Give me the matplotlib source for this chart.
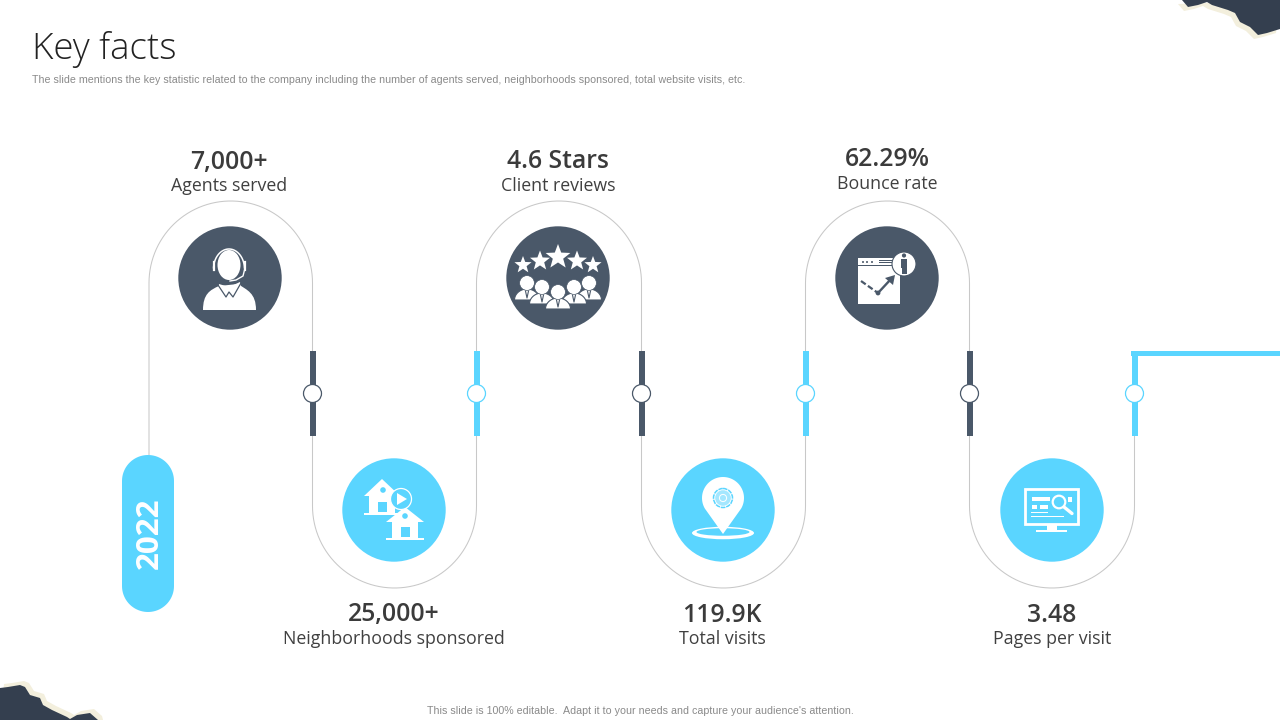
import matplotlib
matplotlib.use("Agg")
import matplotlib.pyplot as plt
import numpy as np
from matplotlib.patches import Circle, Ellipse, Polygon, Rectangle, PathPatch
from matplotlib.path import Path

DARK = "#4A5869"
CYAN = "#5AD5FF"
GREY = "#C8C8C8"
TORN = "#343F4F"
CREAM = "#F3EFDD"

values = ["7,000+", "25,000+", "4.6 Stars", "119.9K", "62.29%", "3.48"]
labels = ["Agents served", "Neighborhoods sponsored", "Client reviews",
          "Total visits", "Bounce rate", "Pages per visit"]
text_x = [229, 394, 558, 722, 887, 1052]
value_y = [162, 615, 162, 615, 160, 615]
label_y = [186, 639, 186, 639, 184, 639]
icon_x = [230, 394, 558, 723, 887, 1052]
icon_y = [278, 510, 278, 510, 278, 510]
turn_x = [149, 312.5, 476.5, 641.5, 805.5, 969.5, 1134.5]

top_right_edge = [(1182, 0), (1188, 7), (1198, 5), (1207, 2), (1212, 5), (1228, 10), (1235, 13),
                  (1240, 22), (1250, 27), (1258, 35), (1267, 33), (1280, 29)]
bottom_left_edge = [(0, 688), (8, 687), (20, 685), (25, 687), (30, 695), (40, 698), (43, 705),
                    (52, 710), (67, 717), (70, 719), (77, 715), (90, 713), (98, 720)]

TITLE = "Key facts"
SUBTITLE = ("The slide mentions the key statistic related to the company including the number of "
            "agents served, neighborhoods sponsored, total website visits, etc.")
FOOTER = "This slide is 100% editable.  Adapt it to your needs and capture your audience's attention."

fig = plt.figure(figsize=(12.8, 7.2), dpi=100)
ax = fig.add_axes([0, 0, 1, 1])
ax.set_xlim(0, 1280)
ax.set_ylim(720, 0)
ax.axis("off")


def arch(x0, x1, y_mid, y_end):
    # half ellipse from x0 to x1, bulging to y_end
    th = np.linspace(np.pi, 0, 60)
    cx = (x0 + x1) / 2
    return cx + (x1 - x0) / 2 * np.cos(th), y_mid + (y_end - y_mid) * np.sin(th)


def snake():
    xs = [turn_x[0]]
    ys = [455]
    for i in range(len(turn_x) - 1):
        if i % 2 == 0:
            ax_, ay_ = arch(turn_x[i], turn_x[i + 1], 283, 201)
        else:
            ax_, ay_ = arch(turn_x[i], turn_x[i + 1], 506, 588)
        xs.extend(ax_)
        ys.extend(ay_)
    xs.append(turn_x[-1])
    ys.append(430)
    ax.plot(xs, ys, color=GREY, lw=0.75, zorder=1, solid_capstyle="butt")


def white_poly(pts, color="white", z=5):
    ax.add_patch(Polygon(pts, closed=True, fc=color, ec="none", zorder=z))


def rect(x0, y0, x1, y1, color="white", z=5):
    ax.add_patch(Rectangle((x0, y0), x1 - x0, y1 - y0, fc=color, ec="none", zorder=z))


def dot(x, y, r, color="white", z=5):
    ax.add_patch(Circle((x, y), r, fc=color, ec="none", zorder=z))


def star(x, y, r, color="white", z=5):
    ang = -np.pi / 2 + np.arange(10) * np.pi / 5
    rad = np.where(np.arange(10) % 2 == 0, r, r * 0.42)
    white_poly(np.c_[x + rad * np.cos(ang), y + rad * np.sin(ang)], color, z)


def agent_icon():
    ax.add_patch(Ellipse((229, 265), 23, 30, fc="white", ec="none", zorder=5))
    th = np.linspace(np.pi * 1.02, np.pi * 1.98, 40)
    ax.plot(229 + 15.5 * np.cos(th), 269 + 20 * np.sin(th), color="white", lw=1.1, zorder=5)
    ax.plot([214, 214], [262, 270], color="white", lw=1.6, zorder=5)
    ax.plot([244.5, 244.5], [262, 270], color="white", lw=1.6, zorder=5)
    ax.plot([244.5, 243, 236, 230], [270, 276, 280, 281], color="white", lw=1, zorder=5)
    body = Path([(203, 310), (203, 294), (210, 290), (219, 286), (238, 284),
                 (247, 290), (256, 293), (256, 310), (203, 310)],
                [Path.MOVETO, Path.CURVE4, Path.CURVE4, Path.CURVE4, Path.LINETO,
                 Path.CURVE4, Path.CURVE4, Path.CURVE4, Path.CLOSEPOLY])
    ax.add_patch(PathPatch(body, fc="white", ec="none", zorder=5))
    white_poly([(219, 284), (229, 287), (240, 282), (241, 287), (233, 297), (229, 292), (226, 297), (218, 288)])
    ax.plot([218, 226, 229, 233, 241], [285, 297, 292, 297, 283], color=DARK, lw=0.9, zorder=6)


def house(apex, half, roof, wall, base_y, door, win, bottom):
    ax_, ay_ = apex
    white_poly([(ax_, ay_), (ax_ + half, ay_ + roof), (ax_ - half, ay_ + roof)])
    rect(ax_ - wall, ay_ + roof - 1, ax_ + wall, base_y)
    rect(ax_ - half, base_y, ax_ + half, bottom)
    rect(door[0], door[1], door[2], door[3], CYAN, 6)
    dot(win[0], win[1], 2.8, CYAN, 6)


def houses_icon():
    house((382, 479), 18, 17, 13, 513, (378, 502, 387, 512), (383, 490), 515)
    ax.add_patch(Circle((401, 499), 10.5, fc=CYAN, ec="white", lw=0.9, zorder=7))
    white_poly([(397, 493), (397, 505), (407, 499)], z=8)
    house((405, 507), 19, 15, 13, 538, (401, 527, 410, 537), (405, 516), 540)


def reviews_icon():
    for x, y, r in zip([523, 540, 558, 577, 593], [265, 261, 257, 261, 265], [9, 10.5, 13, 10.5, 9]):
        star(x, y, r)
    people = [(527, 283), (589, 283), (542, 287), (574, 287), (558, 292)]
    th = np.linspace(np.pi, 2 * np.pi, 40)
    for i, (x, y) in enumerate(people):
        z = 5 + i
        dome = np.c_[x + 12.5 * np.cos(th), y + 17 + 11 * np.sin(th)]
        ax.add_patch(Polygon(dome, closed=True, fc="white", ec=DARK, lw=0.8, zorder=z))
        ax.plot([x - 1.5, x, x + 1.5], [y + 8, y + 15, y + 8], color=DARK, lw=0.8, zorder=z)
        ax.add_patch(Circle((x, y), 7.4, fc="white", ec=DARK, lw=0.5, zorder=z))


def bounce_icon():
    rect(858, 258, 900, 304)
    rect(858, 264.8, 900, 265.6, DARK, 6)
    for x in [863, 867, 872]:
        dot(x, 262, 1, DARK, 6)
    rect(879, 260.2, 893, 261, DARK, 6)
    rect(879, 262.2, 893, 263, DARK, 6)
    ax.plot([861, 878], [281, 293], color=DARK, lw=1.6, ls=(0, (2.6, 1.2)), zorder=6)
    dot(878, 293, 2.4, DARK, 6)
    ax.plot([878, 891], [293, 279], color=DARK, lw=1.7, zorder=6)
    white_poly([(895, 275), (893, 285), (885, 278)], DARK, 6)
    ax.add_patch(Circle((904, 264), 12, fc="white", ec=DARK, lw=0.8, zorder=7))
    dot(904, 255.5, 2.1, DARK, 8)
    rect(900.8, 258.6, 907.2, 267.5, DARK, 8)
    rect(901.5, 267.5, 903.7, 274, DARK, 8)
    rect(904.3, 267.5, 906.5, 274, DARK, 8)


def pin_icon():
    ax.add_patch(Ellipse((723, 533), 62, 12.5, fc="white", ec="none", zorder=5))
    ax.add_patch(Ellipse((723, 532), 53, 7.5, fc=CYAN, ec="none", zorder=5))
    th = np.linspace(np.deg2rad(-30), np.deg2rad(210), 60)
    pts = np.c_[723 + 21 * np.cos(th), 498 - 21 * np.sin(th)]
    white_poly(np.vstack([pts, [(723, 534)]]), z=6)
    ax.add_patch(Circle((723, 498), 9.5, fc="none", ec=CYAN, lw=1.1, ls=(0, (3, 0.6)), zorder=7))
    ax.add_patch(Circle((723, 498), 7.8, fc=CYAN, ec="none", alpha=0.55, zorder=7))
    ax.add_patch(Circle((723, 498), 3.6, fc="none", ec="white", lw=0.7, zorder=8))


def monitor_icon():
    ax.add_patch(Rectangle((1025, 489), 53, 34.5, fc="none", ec="white", lw=2, zorder=5))
    rect(1047, 524, 1057, 529.5)
    rect(1036, 529.5, 1067, 532)
    rect(1032, 497, 1050, 501)
    rect(1032, 505, 1037, 509)
    rect(1040, 505, 1048, 509)
    rect(1031, 511.8, 1048, 512.6)
    rect(1031, 516.4, 1064, 517.2)
    rect(1068, 497, 1072, 502)
    ax.add_patch(Circle((1059, 502), 6.3, fc=CYAN, ec="white", lw=1.6, zorder=6))
    ax.plot([1064, 1072], [507, 513.5], color="white", lw=2.4, solid_capstyle="round", zorder=6)


def pill(x0, x1, y0, y1, color):
    r = (x1 - x0) / 2
    cx = (x0 + x1) / 2
    th = np.linspace(np.pi, 2 * np.pi, 40)
    top = np.c_[cx + r * np.cos(th), y0 + r + r * np.sin(th)]
    bot = np.c_[cx - r * np.cos(th), y1 - r - r * np.sin(th)]
    white_poly(np.vstack([top, bot]), color, 4)


snake()

# connectors on the middle of every vertical run
for i, x in enumerate(turn_x[1:]):
    c = DARK if i % 2 == 0 else CYAN
    rect(x - 3, 351, x + 3, 436, c, 2)
    ax.add_patch(Circle((x, 393.5), 9, fc="white", ec=c, lw=0.9, zorder=3))

# blue line leaving the slide
rect(1131, 351, 1280, 356, CYAN, 2)

for i, (x, y) in enumerate(zip(icon_x, icon_y)):
    ax.add_patch(Circle((x, y), 51.7, fc=DARK if i % 2 == 0 else CYAN, ec="none", zorder=4))

agent_icon()
houses_icon()
reviews_icon()
pin_icon()
bounce_icon()
monitor_icon()

pill(122, 174, 455, 612, CYAN)
ax.text(150, 533, "2022", rotation=90, ha="center", va="center", color="white",
        family="Open Sans", fontweight="bold", fontsize=22.6, zorder=5)

for val, lab, x, vy, ly in zip(values, labels, text_x, value_y, label_y):
    ax.text(x, vy, val, ha="center", va="center", color="#3B3B3B", family="Open Sans",
            fontweight=600, fontsize=17.8)
    ax.text(x, ly, lab, ha="center", va="center", color="#404040", family="Open Sans", fontsize=12.8)

ax.text(32, 50, TITLE, ha="left", va="center", color="#222222", family="Open Sans", fontweight="light", fontsize=26.5)
ax.text(32, 80, SUBTITLE, ha="left", va="center", color="#8A8A8A", family="Liberation Sans", fontsize=7.68)
ax.text(640, 711, FOOTER, ha="center", va="center", color="#8A8A8A", family="Liberation Sans", fontsize=7.63)

# torn corners
tr = np.array(top_right_edge, dtype=float)
white_poly(np.vstack([tr + (-4, 4), [(1280, 0)]]), CREAM, 6)
white_poly(np.vstack([tr, [(1280, 0)]]), TORN, 7)
bl = np.array(bottom_left_edge, dtype=float)
white_poly(np.vstack([bl + (4, -4), [(103, 720), (0, 720)]]), CREAM, 6)
white_poly(np.vstack([bl, [(0, 720)]]), TORN, 7)

fig.savefig("out.png", dpi=100)
